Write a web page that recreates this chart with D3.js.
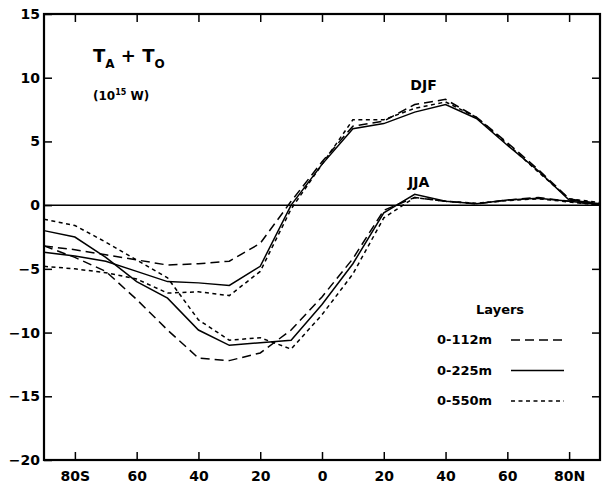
<!DOCTYPE html>
<html>
<head>
<meta charset="utf-8">
<script src="https://cdn.jsdelivr.net/npm/d3@7"></script>
<style>
  body { margin: 0; background: white; }
  text { font-family: "DejaVu Sans", sans-serif; font-weight: bold; fill: black; }
</style>
</head>
<body>
<div id="chart"></div>
<script>
// latitude of each value (negative = south)
const lats = [-90, -80, -70, -60, -50, -40, -30, -20, -10, 0, 10, 20, 30, 40, 50, 60, 70, 80, 90];

// T_A + T_O in 10^15 W, per season and ocean layer
const djf112 = [-3.2, -3.5, -3.9, -4.3, -4.7, -4.6, -4.4, -3.0, 0.3, 3.4, 6.2, 6.6, 7.9, 8.3, 6.9, 4.9, 2.8, 0.5, 0.1];
const djf225 = [-3.7, -4.0, -4.4, -5.2, -6.0, -6.1, -6.3, -4.8, 0.0, 3.2, 6.0, 6.4, 7.3, 7.9, 6.8, 4.7, 2.7, 0.4, 0.1];
const djf550 = [-4.8, -5.0, -5.3, -5.8, -6.9, -6.8, -7.1, -5.2, -0.3, 3.2, 6.7, 6.7, 7.6, 8.1, 6.9, 4.8, 2.6, 0.5, 0.2];
const jja112 = [-3.2, -4.1, -5.2, -7.4, -9.8, -12.0, -12.2, -11.6, -9.8, -7.2, -4.2, -0.4, 0.6, 0.3, 0.1, 0.4, 0.6, 0.3, 0.0];
const jja225 = [-2.0, -2.5, -4.1, -6.0, -7.3, -9.8, -11.0, -10.8, -10.6, -7.8, -4.6, -0.6, 0.85, 0.3, 0.1, 0.4, 0.55, 0.3, 0.05];
const jja550 = [-1.1, -1.6, -2.9, -4.3, -5.7, -9.0, -10.6, -10.4, -11.3, -8.6, -5.4, -1.0, 0.6, 0.3, 0.15, 0.35, 0.5, 0.25, 0.0];

const layers = ["0-112m", "0-225m", "0-550m"];
const xTicks = [-80, -60, -40, -20, 0, 20, 40, 60, 80];
const xTickLabels = ["80S", "60", "40", "20", "0", "20", "40", "60", "80N"];
const yTicks = [-20, -15, -10, -5, 0, 5, 10, 15];

const dashes = {"0-112m": "9,5", "0-225m": null, "0-550m": "4,3.5"};

const series = [
  {layer: "0-112m", values: djf112},
  {layer: "0-225m", values: djf225},
  {layer: "0-550m", values: djf550},
  {layer: "0-112m", values: jja112},
  {layer: "0-225m", values: jja225},
  {layer: "0-550m", values: jja550}
];

const width = 604, height = 485;
const margin = {top: 14, right: 4, bottom: 25, left: 44};

const svg = d3.select("#chart")
  .append("svg")
  .attr("width", width)
  .attr("height", height);

const x = d3.scaleLinear()
  .domain([-90, 90])
  .range([margin.left, width - margin.right]);

const y = d3.scaleLinear()
  .domain([-20, 15])
  .range([height - margin.bottom, margin.top]);

// axes, ticks point inward
svg.append("g")
  .attr("transform", `translate(${margin.left},0)`)
  .call(d3.axisLeft(y).tickValues(yTicks).tickSize(-8).tickPadding(4)
    .tickFormat(d => d < 0 ? "\u2212" + Math.abs(d) : d))
  .call(g => g.select(".domain").remove())
  .call(g => g.selectAll(".tick line").attr("stroke-width", 1.5))
  .call(g => g.selectAll("text").style("font-size", "14px").attr("fill", "black"));

svg.append("g")
  .attr("transform", `translate(${width - margin.right},0)`)
  .call(d3.axisRight(y).tickValues(yTicks.filter(d => d !== 0 && d !== 15 && d !== -20)).tickSize(-8).tickFormat(""))
  .call(g => g.select(".domain").remove())
  .call(g => g.selectAll(".tick line").attr("stroke-width", 1.5));

svg.append("g")
  .attr("transform", `translate(0,${height - margin.bottom})`)
  .call(d3.axisBottom(x).tickValues(xTicks).tickSize(-8).tickPadding(11)
    .tickFormat((d, i) => xTickLabels[i]))
  .call(g => g.select(".domain").remove())
  .call(g => g.selectAll(".tick line").attr("stroke-width", 1.5))
  .call(g => g.selectAll("text").style("font-size", "14px").attr("fill", "black"));

svg.append("g")
  .attr("transform", `translate(0,${margin.top})`)
  .call(d3.axisTop(x).tickValues(xTicks).tickSize(-8).tickFormat(""))
  .call(g => g.select(".domain").remove())
  .call(g => g.selectAll(".tick line").attr("stroke-width", 1.5));

// frame
svg.append("rect")
  .attr("x", margin.left)
  .attr("y", margin.top)
  .attr("width", width - margin.right - margin.left)
  .attr("height", height - margin.bottom - margin.top)
  .attr("fill", "none")
  .attr("stroke", "black")
  .attr("stroke-width", 2.2);

// zero line
svg.append("line")
  .attr("x1", x(-90)).attr("x2", x(90))
  .attr("y1", y(0)).attr("y2", y(0))
  .attr("stroke", "black")
  .attr("stroke-width", 1.5);

const line = d3.line()
  .x((d, i) => x(lats[i]))
  .y(d => y(d));

svg.selectAll(".curve")
  .data(series)
  .enter().append("path")
    .attr("class", "curve")
    .attr("d", d => line(d.values))
    .attr("fill", "none")
    .attr("stroke", "black")
    .attr("stroke-width", 1.5)
    .attr("stroke-dasharray", d => dashes[d.layer]);

// title
const title = svg.append("text")
  .attr("x", 93)
  .attr("y", 62)
  .style("font-size", "18px");
title.append("tspan").text("T");
title.append("tspan").attr("dy", 6).style("font-size", "12px").text("A");
title.append("tspan").attr("dy", -6).text(" + T");
title.append("tspan").attr("dy", 6).style("font-size", "12px").text("O");

const units = svg.append("text")
  .attr("x", 93)
  .attr("y", 100)
  .style("font-size", "12px");
units.append("tspan").text("(10");
units.append("tspan").attr("dy", -5).style("font-size", "8px").text("15");
units.append("tspan").attr("dy", 5).text(" W)");

svg.append("text")
  .attr("x", x(40) - 22)
  .attr("y", 90)
  .attr("text-anchor", "middle")
  .style("font-size", "14px")
  .text("DJF");

svg.append("text")
  .attr("x", x(30) + 4)
  .attr("y", 187)
  .attr("text-anchor", "middle")
  .style("font-size", "14px")
  .text("JJA");

// legend
svg.append("text")
  .attr("x", 476)
  .attr("y", 314)
  .style("font-size", "13px")
  .text("Layers");

const legend = svg.selectAll(".legend")
  .data(layers)
  .enter().append("g")
    .attr("class", "legend")
    .attr("transform", (d, i) => `translate(0,${344 + i * 30.5})`);

legend.append("text")
  .attr("x", 437)
  .attr("y", 0)
  .style("font-size", "13px")
  .text(d => d);

legend.append("line")
  .attr("x1", 511).attr("x2", 564)
  .attr("y1", -4).attr("y2", -4)
  .attr("stroke", "black")
  .attr("stroke-width", 1.5)
  .attr("stroke-dasharray", d => dashes[d]);
</script>
</body>
</html>
